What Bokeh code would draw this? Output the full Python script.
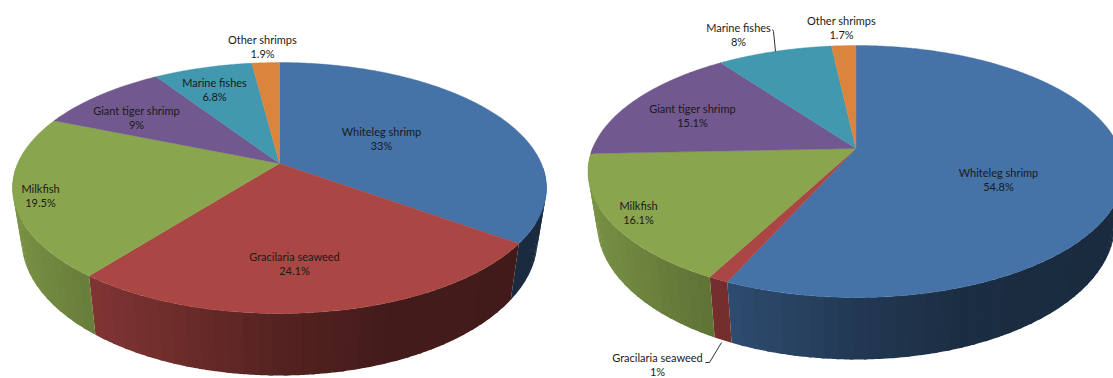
import numpy as np
from bokeh.embed import file_html
from bokeh.models import ColumnDataSource, Range1d
from bokeh.plotting import figure
from bokeh.resources import INLINE
from bokeh.core.properties import value

# Shares of production per species, clockwise from twelve o'clock.
species = ["Whiteleg shrimp", "Gracilaria seaweed", "Milkfish",
           "Giant tiger shrimp", "Marine fishes", "Other shrimps"]
shares_left = [33, 24.1, 19.5, 9, 6.8, 1.9]
shares_right = [54.8, 1, 16.1, 15.1, 8, 1.7]

slice_colors = [(69, 114, 167), (170, 70, 67), (137, 165, 78),
                (113, 88, 143), (65, 152, 175), (219, 132, 61)]

# Where each two-line label sits, in page pixels (centre x, first line y).
label_pos_left = [(381, 130.5), (294, 255.5), (40, 187.5), (136, 109.5), (214, 81.5), (262, 38.5)]
label_pos_right = [(998, 171.5), (657, 356.5), (638, 204.5), (692, 107.5), (738, 26.5), (841, 19.5)]

# Lighting on the pie wall: brightness against horizontal position on the rim.
shade_at = [-1.0, -0.7, -0.5, 0.0, 0.4, 1.0]
shade_val = [0.88, 0.75, 0.68, 0.50, 0.40, 0.38]


def rim(theta, tilt):
    """Perspective view of the unit circle: angle clockwise from the top to ellipse coords."""
    u, v = np.sin(theta), np.cos(theta)
    den = 1 + tilt * v
    return u * np.sqrt(1 - tilt ** 2) / den, (v + tilt) / den


def pie3d(shares, cx, cy, rx, ry, depth_cy, depth_rx, depth_ry):
    tilt = (cy[1] - cy[0]) / ry
    ex = cx
    edges = np.concatenate([[0], np.cumsum(shares)]) / sum(shares) * 2 * np.pi

    walls = dict(xs=[], ys=[], color=[])
    tops = dict(xs=[], ys=[], color=[])
    for i, color in enumerate(slice_colors):
        span = edges[i + 1] - edges[i]
        # The wall is painted in overlapping bands so no seams show between them.
        n_bands = max(1, int(span * 22))
        bands = np.linspace(edges[i], edges[i + 1], n_bands + 1)
        for j in range(n_bands):
            theta = np.linspace(bands[j], bands[j + 1], 8)
            if j + 1 < n_bands:
                theta = np.append(theta, bands[j + 1] + (bands[j + 1] - bands[j]) * 0.25)
            u, v = rim(theta, tilt)
            if v.min() > 0.15:
                continue
            xt, yt = ex + rx * u, cy[1] - ry * v
            xb, yb = ex + depth_rx * u, depth_cy - depth_ry * v
            k = np.interp(u[:8].mean(), shade_at, shade_val)
            walls["xs"].append(np.concatenate([xt, xb[::-1]]).tolist())
            walls["ys"].append(np.concatenate([yt, yb[::-1]]).tolist())
            walls["color"].append("#%02x%02x%02x" % tuple(int(ch * k) for ch in color))

        theta = np.linspace(edges[i], edges[i + 1], max(6, int(span * 120)))
        u, v = rim(theta, tilt)
        tops["xs"].append([cx] + (ex + rx * u).tolist())
        tops["ys"].append([cy[0]] + (cy[1] - ry * v).tolist())
        tops["color"].append("#%02x%02x%02x" % color)
    return walls, tops


p = figure(width=1113, height=378, output_backend="svg", toolbar_location=None,
           x_range=Range1d(0, 1113), y_range=Range1d(378, 0),
           min_border=0, outline_line_color=None,
           x_axis_location=None, y_axis_location=None)
p.grid.visible = False
p.background_fill_color = "white"

charts = [
    (shares_left, label_pos_left, dict(cx=279, cy=(163, 187.5), rx=267, ry=125.5,
                                       depth_cy=239, depth_rx=258, depth_ry=136)),
    (shares_right, label_pos_right, dict(cx=855.5, cy=(148, 171), rx=268, ry=126,
                                         depth_cy=223, depth_rx=259, depth_ry=136)),
]

for shares, positions, geom in charts:
    walls, tops = pie3d(shares, **geom)
    p.patches("xs", "ys", source=ColumnDataSource(walls), fill_color="color", line_color=None)
    p.patches("xs", "ys", source=ColumnDataSource(tops), fill_color="color",
              line_color="color", line_width=0.4)

# Leader lines for the two labels that sit outside their slices.
p.line([772, 773, 775], [29, 31, 51], line_color="#333333", line_width=1)
p.line([705, 709, 721], [362, 362, 342], line_color="#333333", line_width=1)

for shares, positions, geom in charts:
    xs = [pos[0] for pos in positions]
    y1 = [pos[1] for pos in positions]
    y2 = [pos[1] + 14.5 for pos in positions]
    pct = [f"{s:g}%" for s in shares]
    for ys, texts in ((y1, species), (y2, pct)):
        src = ColumnDataSource(dict(x=xs, y=ys, t=texts))
        p.text("x", "y", text="t", source=src, text_align="center",
               text_baseline="middle", text_color="#1a1a1a",
               text_font=value("Lato"), text_font_size="11px")

open("out.html", "w").write(file_html(p, INLINE))
